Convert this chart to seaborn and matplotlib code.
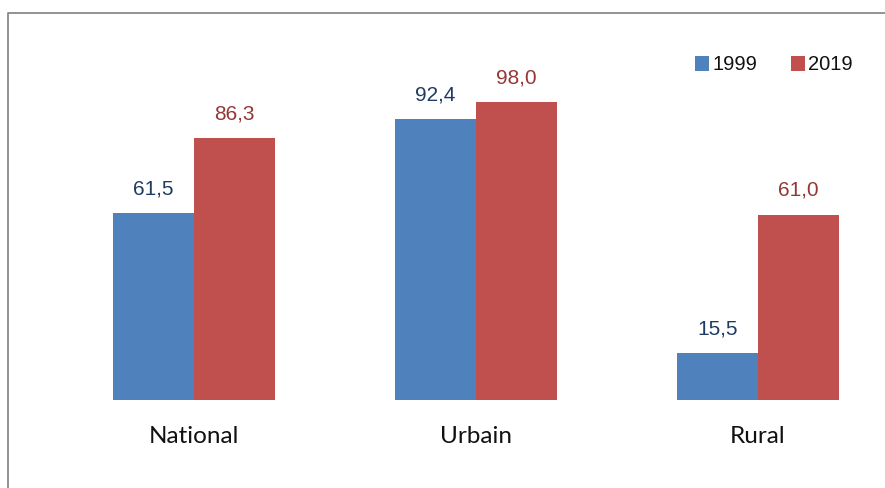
import numpy as np
import pandas as pd
import seaborn as sns
import matplotlib.pyplot as plt
from matplotlib.lines import Line2D

# data
categories = ['National', 'Urbain', 'Rural']
years = ['1999', '2019']
values_1999 = [61.5, 92.4, 15.5]
values_2019 = [86.3, 98.0, 61.0]

bar_colors = ['#4F81BD', '#C0504D']
label_colors = ['#1F3B63', '#953735']

df = pd.DataFrame({
    'zone': categories * 2,
    'year': [years[0]] * 3 + [years[1]] * 3,
    'value': values_1999 + values_2019,
})

sns.set_theme(style='white')
arial = ['Liberation Sans', 'DejaVu Sans']
plt.rcParams['font.family'] = arial

W, H = 885, 488
fig = plt.figure(figsize=(W / 100, H / 100), dpi=100)
# plot area: baseline at y=400 px, 3.04 px per unit, category pitch 282 px
ax = fig.add_axes([53 / W, 1 - 400 / H, 846 / W, 120 * 3.04 / H])

sns.barplot(data=df, x='zone', y='value', hue='year', palette=bar_colors,
            width=0.574, saturation=1, linewidth=0, edgecolor='none',
            ax=ax, legend=True)

ax.set_xlim(-0.5, 2.5)
ax.set_ylim(0, 120)
for s in ax.spines.values():
    s.set_visible(False)
ax.set_xlabel('')
ax.set_ylabel('')
ax.set_yticks([])
ax.tick_params(axis='x', length=0, pad=19)
for t in ax.get_xticklabels():
    t.set_fontfamily(['Lato', 'DejaVu Sans'])
    t.set_fontsize(17.5)
    t.set_color('#111111')

for cont, col in zip(ax.containers, label_colors):
    labels = [f'{b.get_height():.1f}'.replace('.', ',') for b in cont]
    ax.bar_label(cont, labels=labels, padding=10.5, fontsize=15, color=col,
                 family=arial)

handles, labs = ax.get_legend_handles_labels()
ax.legend(handles, labs, ncol=2, frameon=False,
          prop={'family': arial, 'size': 14.5},
          handlelength=0.7, handleheight=0.7, handletextpad=0.15,
          columnspacing=1.7, loc='center', bbox_to_anchor=(774 / W, 1 - 65 / H),
          bbox_transform=fig.transFigure, labelcolor='#111111')

# gray frame around the chart
x0, y0 = 7.5 / W, 1 - 12.5 / H
fig.add_artist(Line2D([x0, x0, 1], [0, y0, y0], color='#8a8a8a', lw=1.3,
                      transform=fig.transFigure))

fig.savefig('out.png', dpi=100)
